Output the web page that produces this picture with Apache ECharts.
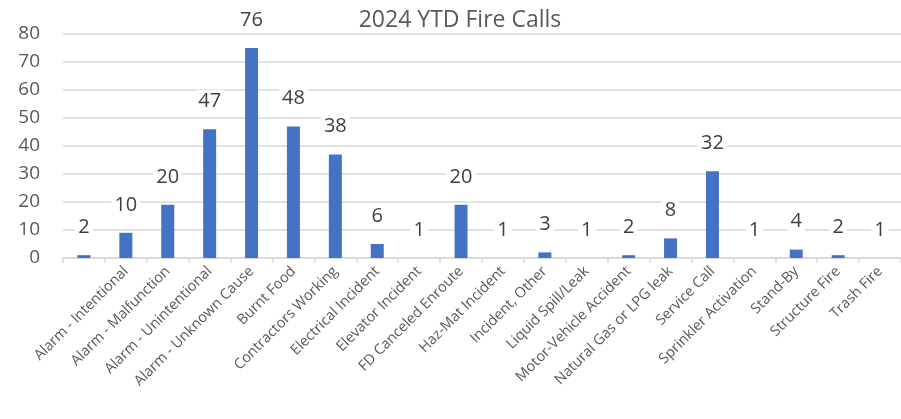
<!DOCTYPE html>
<html>
<head>
<meta charset="utf-8">
<script src="https://cdn.jsdelivr.net/npm/echarts@6/dist/echarts.min.js"></script>
<style>
  html, body { margin: 0; padding: 0; background: #fff; }
  #chart { width: 901px; height: 419px; }
</style>
</head>
<body>
<div id="chart"></div>
<script>
// 分类（第一个为空）
var categories = ['', 'Alarm - Intentional', 'Alarm - Malfunction', 'Alarm - Unintentional',
  'Alarm - Unknown Cause', 'Burnt Food', 'Contractors Working', 'Electrical Incident',
  'Elevator Incident', 'FD Canceled Enroute', 'Haz-Mat Incident', 'Incident, Other',
  'Liquid Spill/Leak', 'Motor-Vehicle Accident', 'Natural Gas or LPG leak', 'Service Call',
  'Sprinkler Activation', 'Stand-By', 'Structure Fire', 'Trash Fire'];
// 柱子高度
var barValues = [1, 9, 19, 46, 75, 47, 37, 5, 0, 19, 0, 2, 0, 1, 7, 31, 0, 3, 1, 0];
// 标签数字
var labelValues = [2, 10, 20, 47, 76, 48, 38, 6, 1, 20, 1, 3, 1, 2, 8, 32, 1, 4, 2, 1];
var yTicks = [0, 10, 20, 30, 40, 50, 60, 70, 80];

var chart = echarts.init(document.getElementById('chart'));

var option = {
  animation: false,
  textStyle: { fontFamily: 'Open Sans' },
  title: {
    text: '2024 YTD Fire Calls',
    left: 455,
    textAlign: 'center',
    top: 4,
    textStyle: { fontSize: 23, fontWeight: 'normal', color: '#595959', fontFamily: 'Open Sans' }
  },
  grid: { left: 63, top: 34, width: 844, height: 224 },
  xAxis: {
    type: 'category',
    data: categories,
    axisLine: { lineStyle: { color: '#d9d9d9', width: 1.5 } },
    axisTick: { show: true, length: 5, lineStyle: { color: '#d9d9d9', width: 1.5 } },
    axisLabel: {
      interval: 0, rotate: 45, margin: 11,
      fontSize: 14.5, color: '#595959', fontFamily: 'Open Sans'
    }
  },
  yAxis: {
    type: 'value',
    min: yTicks[0],
    max: yTicks[yTicks.length - 1],
    interval: 10,
    axisLine: { show: false },
    axisTick: { show: false },
    splitLine: { lineStyle: { color: '#d9d9d9', width: 1.5 } },
    axisLabel: { fontSize: 19, color: '#595959', margin: 23, fontFamily: 'Open Sans' }
  },
  series: [{
    type: 'bar',
    data: barValues,
    barWidth: 13,
    itemStyle: { color: '#4472c4' },
    label: {
      show: true,
      position: 'top',
      distance: 17,
      fontSize: 20,
      color: '#404040',
      fontFamily: 'Open Sans',
      backgroundColor: '#fff',
      padding: [1, 3],
      formatter: function (p) { return labelValues[p.dataIndex]; }
    }
  }]
};

chart.setOption(option);
</script>
</body>
</html>
